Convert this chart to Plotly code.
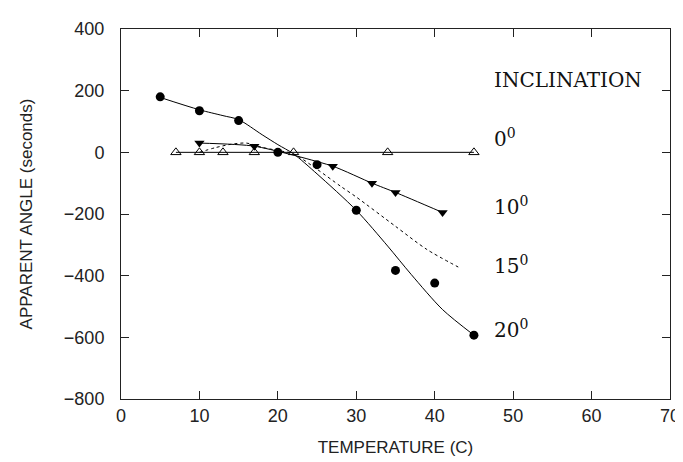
import plotly.graph_objects as go

# 0 deg inclination (open triangles)
t0 = [7, 10, 13, 17, 22, 34, 45]
a0 = [0, 0, 0, 0, 0, 0, 0]

# 10 deg inclination (filled down triangles)
t10 = [10, 17, 27, 32, 35, 41]
a10 = [30, 20, -45, -100, -130, -195]

# 15 deg inclination (dashed curve, no markers)
t15 = [10, 12, 14, 16, 18, 20, 22, 25, 28, 30, 35, 39, 43]
a15 = [0, 15, 26, 30, 16, 6, -5, -55, -110, -145, -240, -315, -372]

# 20 deg inclination (filled circles + fitted curve)
t20 = [5, 10, 15, 20, 25, 30, 35, 40, 45]
a20 = [180, 135, 103, 0, -40, -188, -383, -424, -593]
t20_fit = [5, 10, 13, 15, 18, 20, 22, 25, 30, 34, 37, 41, 45]
a20_fit = [178, 138, 119, 106, 57, 25, -5, -70, -188, -304, -396, -510, -593]

x_ticks = [0, 10, 20, 30, 40, 50, 60, 70]
y_ticks = [400, 200, 0, -200, -400, -600, -800]

labels = ["0<sup>0</sup>", "10<sup>0</sup>", "15<sup>0</sup>", "20<sup>0</sup>"]
label_y = [48, -174, -366, -574]

fig = go.Figure()
fig.add_trace(go.Scatter(x=t0, y=a0, mode="lines+markers",
                         line=dict(color="black", width=1),
                         marker=dict(symbol="triangle-up-open", size=9, color="black",
                                     line=dict(width=1, color="black"))))
fig.add_trace(go.Scatter(x=t10, y=a10, mode="lines+markers",
                         line=dict(color="black", width=1, shape="spline", smoothing=0.6),
                         marker=dict(symbol="triangle-down", size=9, color="black")))
fig.add_trace(go.Scatter(x=t15, y=a15, mode="lines",
                         line=dict(color="black", width=1, dash="3px,3px", shape="spline", smoothing=0.8)))
fig.add_trace(go.Scatter(x=t20_fit, y=a20_fit, mode="lines",
                         line=dict(color="black", width=1, shape="spline", smoothing=0.8)))
fig.add_trace(go.Scatter(x=t20, y=a20, mode="markers",
                         marker=dict(symbol="circle", size=9, color="black")))

fig.add_annotation(x=47.3, y=236, text="INCLINATION", showarrow=False, xanchor="left",
                   yanchor="middle", font=dict(family="DejaVu Serif", size=20, color="#111"))
for txt, yv in zip(labels, label_y):
    fig.add_annotation(x=47.3, y=yv, text=txt, showarrow=False, xanchor="left",
                       yanchor="middle", font=dict(family="DejaVu Serif", size=20, color="#111"))

axis_common = dict(showline=True, linecolor="#222", linewidth=1, mirror="ticks",
                   ticks="inside", ticklen=8, tickcolor="#222", tickwidth=1,
                   showgrid=False, zeroline=False,
                   tickfont=dict(family="Liberation Sans", size=18, color="#222"))

fig.update_layout(
    width=683, height=462,
    margin=dict(l=113, r=11, t=18, b=71),
    paper_bgcolor="white", plot_bgcolor="white",
    showlegend=False,
    xaxis=dict(range=[0, 70], tickvals=x_ticks, title=dict(text="TEMPERATURE (C)",
               font=dict(family="Liberation Sans", size=17, color="#222"), standoff=16),
               **axis_common),
    yaxis=dict(range=[-800, 400], tickvals=y_ticks, title=dict(text="APPARENT ANGLE (seconds)",
               font=dict(family="Liberation Sans", size=17, color="#222"), standoff=26),
               ticklabelstandoff=12, **axis_common),
)

fig.write_html("out.html")
